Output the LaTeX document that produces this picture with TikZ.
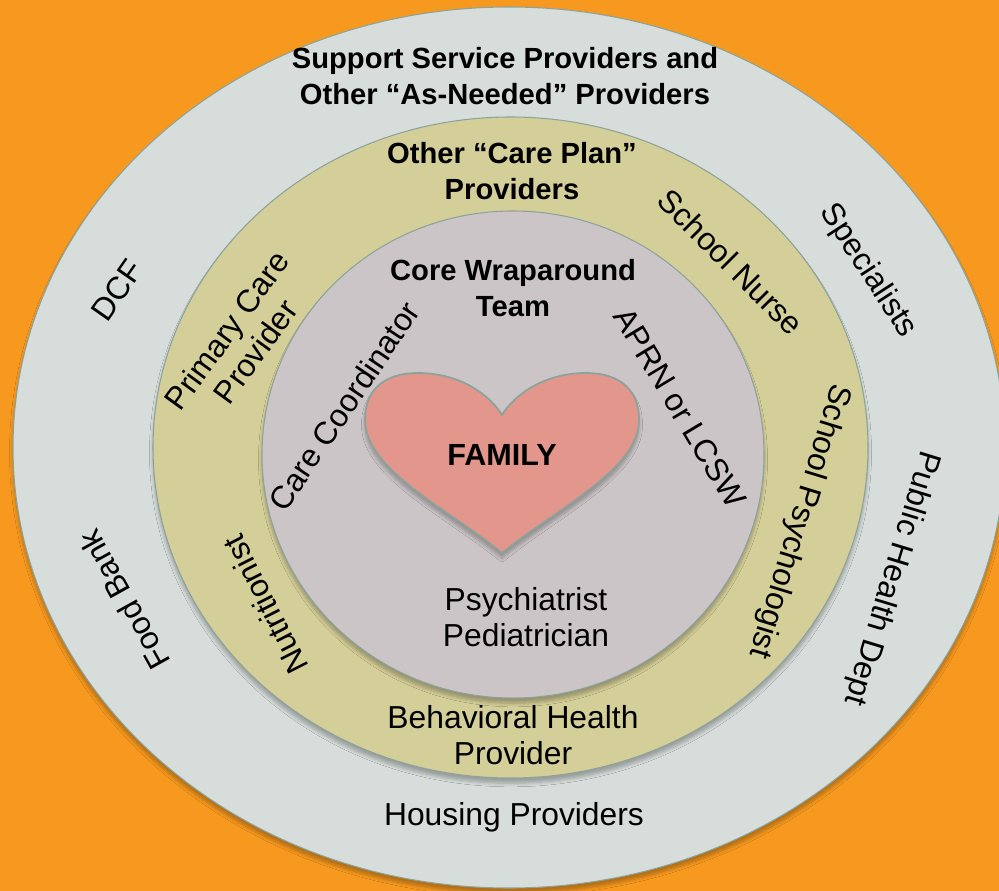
\documentclass[tikz,border=0pt]{standalone}
\usepackage{fontspec}
\setmainfont{Liberation Sans}
\usetikzlibrary{shadows.blur}

\definecolor{bgorange}{HTML}{F7991F}
\definecolor{outerring}{HTML}{D6DDDA}
\definecolor{planring}{HTML}{D4CE98}
\definecolor{corering}{HTML}{CCC5C8}
\definecolor{heartfill}{HTML}{E2968C}
\definecolor{rimline}{HTML}{8CA39B}

\begin{document}
\begin{tikzpicture}[x=0.02cm, y=-0.02cm,
	ring/.style={draw=rimline, line width=0.6pt, blur shadow={shadow xshift=0pt, shadow yshift=-3pt, shadow blur radius=2pt, shadow blur steps=6, shadow opacity=28}},
	headtext/.style={align=center, inner sep=0pt, font=\fontsize{16.6}{20.4}\selectfont\bfseries},
	roletext/.style={align=center, inner sep=0pt, font=\fontsize{18.1}{20.4}\selectfont}]
	\useasboundingbox (0,0) rectangle (999,891);
	\fill[bgorange] (0,0) rectangle (999,891);
	% rings, outside in
	\path[ring, fill=outerring] (509,447.5) ellipse [x radius=496, y radius=440.5];
	\path[ring, fill=planring] (510.5,447.5) ellipse [x radius=357.5, y radius=330.5];
	\path[ring, fill=corering] (513,454.5) ellipse [x radius=251, y radius=243.5];
	\path[ring, line width=1pt, fill=heartfill] (502,553) .. controls (450,510) and (365,470) .. (365,420)
		.. controls (365,385) and (390,373) .. (418,373) .. controls (460,373) and (490,395) .. (502,415)
		.. controls (514,395) and (544,373) .. (586,373) .. controls (614,373) and (639,385) .. (639,420)
		.. controls (639,470) and (554,510) .. cycle;

	\node[headtext] (support) at (505,76) {Support Service Providers and\\Other “As-Needed” Providers};
	\node[headtext] (careplan) at (512,171) {Other “Care Plan”\\Providers};
	\node[headtext] (core) at (513,288) {Core Wraparound\\Team};
	\node[headtext, font=\fontsize{17.4}{20.4}\selectfont\bfseries] (family) at (502,455) {FAMILY};

	\node[roletext] (psych) at (526,617) {Psychiatrist\\Pediatrician};
	\node[roletext] (behav) at (513,735) {Behavioral Health\\Provider};
	\node[roletext] (housing) at (514,817) {Housing Providers};

	\node[roletext, rotate=55] (dcf) at (117,290) {DCF};
	\node[roletext, rotate=119] (foodbank) at (124,600) {Food Bank};
	\node[roletext, rotate=54] (primary) at (241,341) {Primary Care\\Provider};
	\node[roletext, rotate=117] (nutrition) at (265,605) {Nutritionist};
	\node[roletext, rotate=56] (coordinator) at (344,406) {Care Coordinator};
	\node[roletext, rotate=-59] (aprn) at (680,408) {APRN or LCSW};
	\node[roletext, rotate=-45] (nurse) at (731,262) {School Nurse};
	\node[roletext, rotate=-57] (specialists) at (868,271) {Specialists};
	\node[roletext, rotate=-107] (psychologist) at (799,521) {School Psychologist};
	\node[roletext, rotate=-107] (publichealth) at (891,578) {Public Health Dept};
\end{tikzpicture}
\end{document}
